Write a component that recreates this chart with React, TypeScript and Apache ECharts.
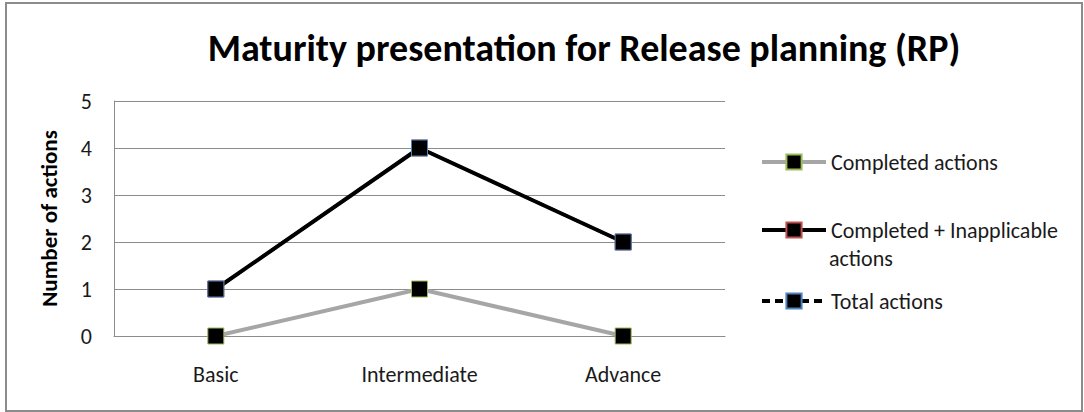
import React, { useEffect, useRef } from "react";
import * as echarts from "echarts";

const categories = ["Basic", "Intermediate", "Advance"];
const completed = [0, 1, 0];
const completedInapplicable = [1, 4, 2];
const totalActions = [1, 4, 2];
const yTicks = [0, 1, 2, 3, 4, 5];

const FONT = 'Carlito, "Open Sans", "Noto Sans", sans-serif';
const TXT = "#1a1a1a";

export default function App() {
  const ref = useRef<HTMLDivElement>(null);
  useEffect(() => {
    const chart = echarts.init(ref.current!, null, { renderer: "svg" });
    const legendBase = {
      orient: "vertical" as const,
      left: 755,
      itemWidth: 64,
      itemHeight: 19,
      itemGap: 0,
      textStyle: { fontSize: 22, color: TXT, fontFamily: FONT },
    };
    chart.setOption({
      animation: false,
      backgroundColor: "#fff",
      title: {
        text: "Maturity presentation for Release planning (RP)",
        left: 579,
        textAlign: "center",
        top: 24,
        textStyle: { fontSize: 38, fontWeight: "bold", color: "#000", fontFamily: FONT },
      },
      grid: { left: 114, right: 359, top: 101, bottom: 76 },
      xAxis: {
        type: "category",
        data: categories,
        boundaryGap: true,
        axisLine: { lineStyle: { color: "#8c8c8c", width: 1 } },
        axisTick: { show: false },
        axisLabel: { fontSize: 22, color: TXT, margin: 27, fontFamily: FONT },
      },
      yAxis: {
        type: "value",
        min: yTicks[0],
        max: yTicks[yTicks.length - 1],
        interval: 1,
        name: "Number of actions",
        nameLocation: "middle",
        nameGap: 54,
        nameTextStyle: { fontSize: 23, fontWeight: "bold", color: "#000", fontFamily: FONT },
        axisLine: { show: true, lineStyle: { color: "#8c8c8c", width: 1 } },
        axisTick: { show: false },
        axisLabel: { fontSize: 22, color: TXT, margin: 22, fontFamily: FONT },
        splitLine: { lineStyle: { color: "#8c8c8c", width: 1 } },
      },
      legend: [
        {
          ...legendBase,
          top: 146,
          data: ["Completed actions"],
          lineStyle: { width: 4 },
        },
        {
          ...legendBase,
          top: 214,
          data: ["Completed + Inapplicable actions"],
          formatter: () => "Completed + Inapplicable",
          lineStyle: { width: 4 },
        },
        {
          ...legendBase,
          top: 285,
          data: ["Total actions"],
          lineStyle: { width: 4, type: [8, 5] },
        },
      ],
      graphic: [
        {
          type: "rect",
          shape: { x: 6, y: 3, width: 1076, height: 408 },
          style: { fill: "none", stroke: "#8c8c8c", lineWidth: 2 },
          silent: true,
        },
        {
          type: "text",
          x: 829,
          y: 247,
          style: { text: "actions", fontSize: 22, fill: TXT, fontFamily: FONT },
        },
      ],
      series: [
        {
          name: "Completed actions",
          type: "line",
          data: completed,
          symbol: "rect",
          symbolSize: 16,
          lineStyle: { color: "#a6a6a6", width: 4 },
          itemStyle: { color: "#000", borderColor: "#9bbb59", borderWidth: 1 },
          z: 2,
        },
        {
          name: "Completed + Inapplicable actions",
          type: "line",
          data: completedInapplicable,
          symbol: "rect",
          symbolSize: 16,
          lineStyle: { color: "#000", width: 4 },
          itemStyle: { color: "#000", borderColor: "#c0504d", borderWidth: 1 },
          z: 3,
        },
        {
          name: "Total actions",
          type: "line",
          data: totalActions,
          symbol: "rect",
          symbolSize: 16,
          lineStyle: { color: "#000", width: 3, type: [8, 5] },
          itemStyle: { color: "#000", borderColor: "#4f81bd", borderWidth: 1 },
          z: 4,
        },
      ],
    });
    return () => chart.dispose();
  }, []);
  return (
    <div
      ref={ref}
      style={{ position: "absolute", left: 0, top: 0, width: 1084, height: 412 }}
    />
  );
}
